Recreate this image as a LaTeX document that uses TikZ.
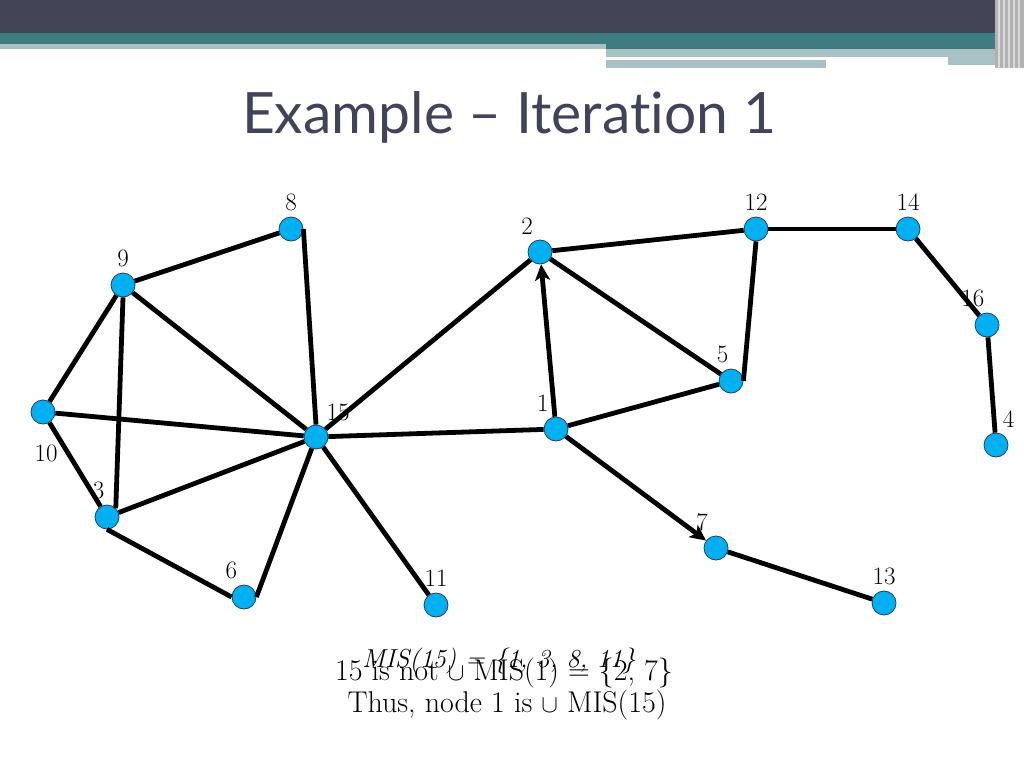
\documentclass[tikz,border=0pt]{standalone}
\usepackage{fontspec}
\usepackage{tikz}
\usetikzlibrary{shapes,arrows,arrows.meta,positioning}
\newfontfamily\titlefont[Ligatures=NoCommon]{Lato}
\definecolor{nodeblue}{HTML}{00B0F0}
\definecolor{rimblue}{HTML}{1F3F6F}
\definecolor{bardark}{HTML}{424456}
\definecolor{barteal}{HTML}{3F7C80}
\definecolor{barlight}{HTML}{A7C1C4}
\definecolor{titlegray}{HTML}{41435A}

\begin{document}
\begin{tikzpicture}[x=1pt,y=-1pt]
  \tikzstyle{vertex} = [circle, draw=rimblue, line width=0.8pt, fill=nodeblue, minimum size=24pt, inner sep=0pt]
  \tikzstyle{lbl} = [font=\fontsize{25}{30}\selectfont, inner sep=1pt, label distance=5pt]
  \tikzstyle{edge} = [line width=4.8pt]
  \tikzstyle{arrow} = [line width=4.8pt, -{Stealth[length=16pt,width=15pt,inset=4pt]}]
  \useasboundingbox (0,0) rectangle (1024,768);

  % header bars
  \fill[bardark] (0,0) rectangle (1024,33);
  \fill[barteal] (0,33) rectangle (1000,44);
  \fill[barteal] (606,44) rectangle (1000,49);
  \fill[barlight] (0,44) rectangle (606,49);
  \fill[barlight] (606,49) rectangle (1000,57);
  \fill[barlight] (948,57) rectangle (1000,65);
  \fill[barlight] (606,60) rectangle (826,68);
  \fill[gray!60] (995,0) rectangle (1024,68);
  \foreach \xx in {998,1003,1008,1013,1018}
    \fill[white!70!gray] (\xx,0) rectangle (\xx+1.5,68);

  \node[text=titlegray, font=\titlefont\fontsize{57}{63}\selectfont] (title) at (509,117) {Example \textendash\ Iteration 1};

  % vertices
  \node[vertex, label={[lbl]90:8}] (n8) at (291,229) {};
  \node[vertex, label={[lbl]90:9}] (n9) at (123,285) {};
  \node[vertex, label={[lbl, label distance=19pt, xshift=3pt]below:10}] (n10) at (43,412) {};
  \node[vertex, label={[lbl]95:3}] (n3) at (107,517) {};
  \node[vertex, label={[lbl]109:6}] (n6) at (244,597) {};
  \node[vertex, label={[lbl]57:15}] (n15) at (316,437) {};
  \node[vertex, label={[lbl]90:11}] (n11) at (436,605) {};
  \node[vertex, label={[lbl]110:2}] (n2) at (540,252) {};
  \node[vertex, label={[lbl]111:1}] (n1) at (556,429) {};
  \node[vertex, label={[lbl]95:5}] (n5) at (731,381) {};
  \node[vertex, label={[lbl]90:12}] (n12) at (756,229) {};
  \node[vertex, label={[lbl]90:14}] (n14) at (908,229) {};
  \node[vertex, label={[lbl]95:16}] (n16) at (987,325) {};
  \node[vertex, label={[lbl]71:4}] (n4) at (996,445) {};
  \node[vertex, label={[lbl]114:7}] (n7) at (716,548) {};
  \node[vertex, label={[lbl]90:13}] (n13) at (884,603) {};

  % edges
  \foreach \a/\b in {n9/n8, n9/n10, n9/n15, n10/n15, n10/n3, n3/n15,
                     n15/n11, n15/n2, n15/n1, n1/n5, n2/n5, n2/n12, n12/n14,
                     n14/n16, n16/n4, n7/n13}
    \draw[edge] (\a) -- (\b);
  \draw[edge] (n8.east) -- (n15.north);
  \draw[edge] (n9.south) -- (n3.north east);
  \draw[edge] (n3.south) -- (n6.west);
  \draw[edge] (n6.east) -- (n15);
  \draw[edge] (n12.south) -- (n5.east);
  \draw[arrow] (n1) -- (n2);
  \draw[arrow] (n1) -- (n7);

  % text below
  \node[font=\fontsize{26}{30}\selectfont\itshape] (misa) at (499,661) {MIS(15) = \{1, 3, 8, 11\}};
  \node[font=\fontsize{30}{34}\selectfont] (misb) at (504,673) {15 is not $\cup$ MIS(1) = \{2, 7\}};
  \node[font=\fontsize{30}{34}\selectfont] (thus) at (507,705) {Thus, node 1 is $\cup$ MIS(15)};
\end{tikzpicture}
\end{document}
